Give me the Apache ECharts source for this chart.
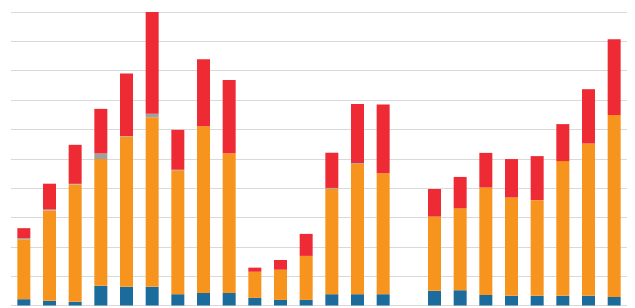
<!DOCTYPE html>
<html>
<head>
<meta charset="utf-8">
<script src="https://cdn.jsdelivr.net/npm/echarts@6/dist/echarts.min.js"></script>
<style>html,body{margin:0;padding:0;background:#fff;}#c{width:635px;height:308px;}</style>
</head>
<body>
<div id="c"></div>
<script>
const categories = ['1','2','3','4','5','6','7','8','9','10','11','12','13','14','15','16','17','18','19','20','21','22','23','24'];
const blueValues   = [2.15,1.6,1.25,6.7,6.35,6.35,3.85,4.3,4.3,2.6,1.9,1.9,3.85,3.85,3.85,null,5.0,5.2,3.6,3.3,3.3,3.3,3.3,2.9];
const orangeValues = [20.4,30.8,40.0,43.2,51.2,57.8,42.2,56.8,47.6,8.9,10.3,15.0,35.9,44.4,41.2,null,25.3,27.9,36.6,33.5,32.6,45.9,51.9,62.0];
const grayValues   = [0.4,0.3,0.2,1.9,0.2,1.2,0.2,0,0,0,0,0,0.3,0.3,0,null,0,0,0,0,0,0,0,0];
const redValues    = [3.4,8.8,13.3,15.2,21.3,34.7,13.6,22.8,24.9,1.4,3.3,7.5,12.0,20.1,23.4,null,9.4,10.7,11.8,13.1,15.0,12.6,18.5,25.8];
const yTicks = {min:0, max:100, interval:10};

const chart = echarts.init(document.getElementById('c'), null, {renderer:'canvas'});
function s(name, data, color){
  return {name, type:'bar', stack:'total', data, barWidth:13, itemStyle:{color}, animation:false};
}
chart.setOption({
  animation:false,
  grid:{left:11, right:8, top:12, bottom:2.5, containLabel:false},
  xAxis:{type:'category', data:categories, axisLine:{show:false}, axisTick:{show:false}, axisLabel:{show:false}},
  yAxis:{type:'value', min:yTicks.min, max:yTicks.max, interval:yTicks.interval,
    axisLabel:{show:false}, axisLine:{show:false}, axisTick:{show:false},
    splitLine:{lineStyle:{color:'#d9d9d9', width:1}}},
  series:[
    s('Blue', blueValues, '#1b6b9c'),
    s('Orange', orangeValues, '#f7941d'),
    s('Gray', grayValues, '#a0a0a0'),
    s('Red', redValues, '#ee2b35')
  ]
});
</script>
</body>
</html>
